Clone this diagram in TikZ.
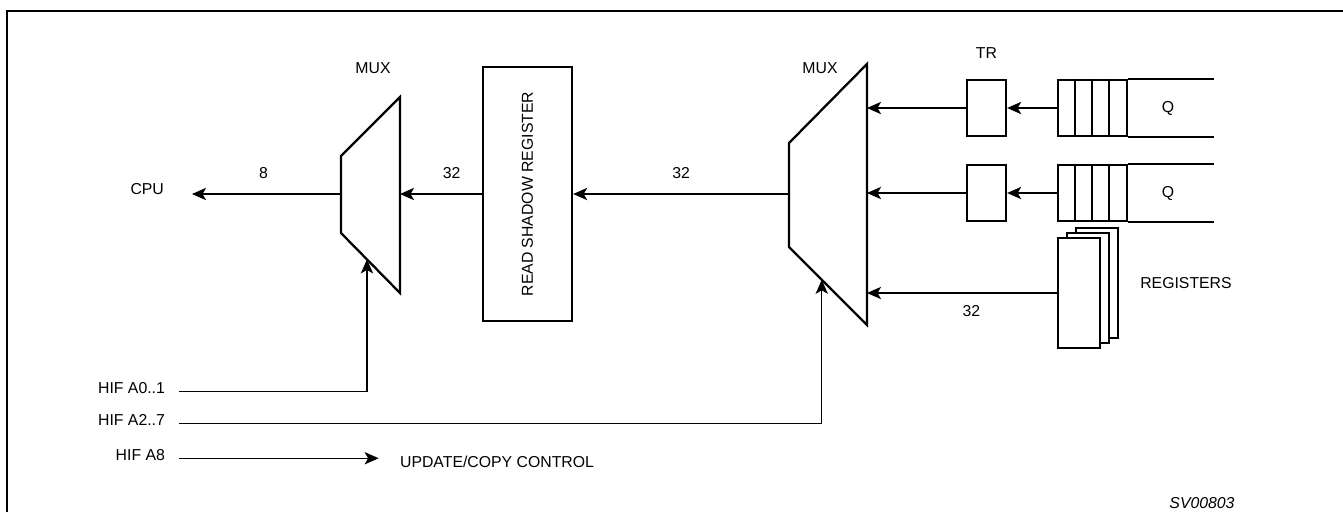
\documentclass[tikz,border=0pt]{standalone}
\usepackage{fontspec}
\setmainfont{Liberation Sans}
\usetikzlibrary{arrows.meta,positioning,calc}

\begin{document}
\begin{tikzpicture}[
  x=0.02cm, y=-0.02cm,
  lbl/.style={font=\fontsize{9}{10}\selectfont, inner sep=1pt},
  regbox/.style={rectangle,draw,line width=1.3pt,fill=white,inner sep=0pt},
  trbox/.style={regbox,minimum width=0.78cm,minimum height=1.12cm},
  qbox/.style={regbox,minimum width=1.38cm,minimum height=1.12cm},
  stackbox/.style={regbox,minimum width=0.84cm,minimum height=2.2cm},
  muxshape/.style={draw,line width=1.3pt,line join=miter},
  conn/.style={-{Stealth[length=8pt,width=7pt,inset=2pt]},line width=0.8pt},
]
\useasboundingbox (0,0) rectangle (1343,512);
\draw[line width=1.4pt] (7,512) -- (7,11) -- (1343,11);

% left mux
\coordinate (m1tl) at (341,156);
\coordinate (m1bl) at (341,233);
\coordinate (m1tr) at (400,97);
\coordinate (m1br) at (400,293);
\draw[muxshape] (m1tl) -- (m1tr) -- (m1br) -- (m1bl) -- cycle;
\node[lbl] (mux1lbl) at (373,68) {MUX};
\coordinate (m1out) at (341,194);
\coordinate (m1in) at (400,194);
\coordinate (m1sel) at ($(m1bl)!0.44!(m1br)$);

% right mux
\coordinate (m2tl) at (789,143);
\coordinate (m2bl) at (789,247);
\coordinate (m2tr) at (867,64);
\coordinate (m2br) at (867,325);
\draw[muxshape] (m2tl) -- (m2tr) -- (m2br) -- (m2bl) -- cycle;
\node[lbl] (mux2lbl) at (820,68) {MUX};
\coordinate (m2out) at (789,194);
\coordinate (m2sel) at ($(m2bl)!0.42!(m2br)$);

% read shadow register
\node[regbox, minimum width=1.78cm, minimum height=5.08cm,
  label={[lbl,rotate=90]center:READ SHADOW REGISTER}] (rsr) at (527.5,194) {};

% TR and queues
\node[trbox] (tr1) at (986.5,108) {};
\node[trbox] (tr2) at (986.5,193) {};
\node[lbl, above=0.36cm of tr1] (trlbl) {TR};
\node[qbox] (q1) at (1092.5,108) {};
\node[qbox] (q2) at (1092.5,193) {};
\foreach \q in {q1,q2} {
  \foreach \d in {18,35,52}
    \draw[line width=1.3pt] ([xshift=\d*0.02cm]\q.north west) -- ([xshift=\d*0.02cm]\q.south west);
  \draw[line width=1.3pt] (\q.north east) -- ++(86,0);
  \draw[line width=1.3pt] (\q.south east) -- ++(86,0);
}
\node[lbl] (q1lbl) at (1168,108) {Q};
\node[lbl] (q2lbl) at (1168,193) {Q};

% registers
\node[stackbox] (reg3) at (1097,283) {};
\node[stackbox] (reg2) at (1088,288) {};
\node[stackbox] (regs) at (1079,293) {};
\node[lbl] (reglbl) at (1186,283) {REGISTERS};

% data path
\draw[conn] (q1.west) -- (tr1.east);
\draw[conn] (q2.west) -- (tr2.east);
\draw[conn] (tr1.west) -- (tr1.west -| m2tr);
\draw[conn] (tr2.west) -- (tr2.west -| m2tr);
\draw[conn] (regs.west) -- node[lbl, below=5.5pt, pos=0.45] {32} (regs.west -| m2tr);
\draw[conn] (m2out) -- node[lbl, above=7.5pt] {32} (rsr.east);
\draw[conn] (rsr.west) -- node[lbl, above=7.5pt, pos=0.37] {32} (m1in);
\coordinate (cpuend) at (192,194);
\node[lbl, anchor=east] (cpu) at (166,189) {CPU};
\draw[conn] (m1out) -- node[lbl, above=7.5pt, pos=0.52] {8} (cpuend);

% control lines
\node[lbl, anchor=base east] (hif01) at (167,393) {HIF A0..1};
\node[lbl, anchor=base east] (hif27) at (167,425) {HIF A2..7};
\node[lbl, anchor=base east] (hif8) at (167,460) {HIF A8};
\node[lbl, anchor=west] (upd) at (398,462) {UPDATE/COPY CONTROL};
\draw[conn] ([xshift=7pt,yshift=1pt]hif01.base east) -| (m1sel);
\draw[conn] ([xshift=7pt,yshift=1pt]hif27.base east) -| (m2sel);
\draw[conn, shorten >=11pt] ([xshift=7pt,yshift=1pt]hif8.base east) -- ([yshift=1pt]hif8.base east -| upd.west);

\node[lbl, font=\fontsize{9}{10}\selectfont\itshape] (svlbl) at (1202,503) {SV00803};
\end{tikzpicture}
\end{document}
